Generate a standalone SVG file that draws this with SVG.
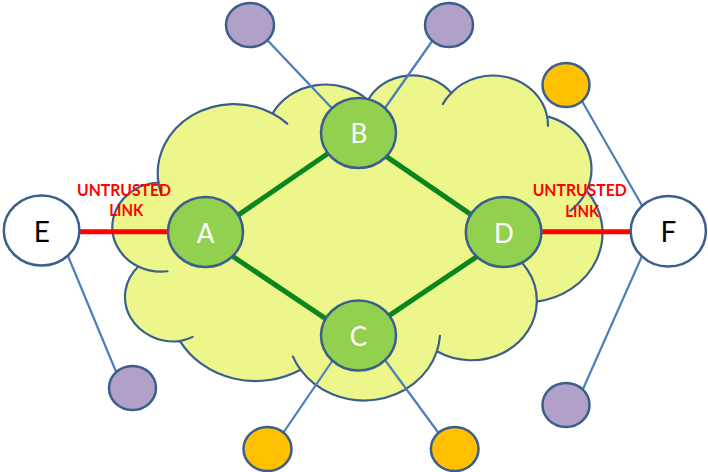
<svg xmlns="http://www.w3.org/2000/svg" width="708" height="472" viewBox="0 0 708 472">
  <style>
    .cloud { fill: #EDF68A; stroke: #3A5F8C; stroke-width: 2.2; stroke-linejoin: round; }
    .tail { fill: none; stroke: #3A5F8C; stroke-width: 2.2; stroke-linecap: round; }
    .spoke { stroke: #4A7EBB; stroke-width: 2.2; fill: none; }
    .trusted { stroke: #0A8520; stroke-width: 5; fill: none; }
    .untrusted { stroke: #FF0000; stroke-width: 5; fill: none; }
    .node { stroke: #3A5F8C; stroke-width: 2.5; }
    .core { fill: #92D050; }
    .edge { fill: #FFFFFF; }
    .purple { fill: #B1A0C7; }
    .orange { fill: #FFC000; }
    .core-label { font-family: Lato, "Liberation Sans", sans-serif; font-size: 26px; fill: #FFFFFF; text-anchor: middle; }
    .edge-label { font-family: Lato, "Liberation Sans", sans-serif; font-size: 28px; fill: #000000; text-anchor: middle; }
    .warn { font-family: Lato, "Liberation Sans", sans-serif; font-size: 17px; font-weight: bold; fill: #FF0000; text-anchor: middle; }
  </style>

  <!-- network cloud: outer outline built from eleven elliptical bumps -->
  <g id="cloud">
    <path class="cloud" d="M 158.44 182.48
      A 76.26 69.12 0 0 1 272.56 113.52
      A 60.23 54.66 0 0 1 368.00 100.21
      A 49.29 44.71 0 0 1 451.30 93.06
      A 54.85 49.60 0 0 1 547.13 116.34
      A 60.23 54.70 0 0 1 586.66 190.67
      A 76.51 69.34 0 0 1 536.81 301.56
      A 65.33 59.17 0 0 1 436.88 351.27
      A 76.25 69.31 0 0 1 300.52 369.71
      A 87.18 79.29 0 0 1 179.96 341.17
      A 49.24 44.51 0 0 1 138.27 266.55
      A 49.07 44.71 0 0 1 158.44 182.48 Z"/>
    <!-- inner hooks where the bumps overlap -->
    <path class="tail" d="M 167.40 271.28 A 49.07 44.71 0 0 1 138.27 266.55"/>
    <path class="tail" d="M 192.64 336.88 A 49.24 44.51 0 0 1 179.96 341.17"/>
    <path class="tail" d="M 300.52 369.71 A 76.25 69.31 0 0 1 292.97 356.62"/>
    <path class="tail" d="M 439.94 335.76 A 76.25 69.31 0 0 1 436.88 351.27"/>
    <path class="tail" d="M 499.82 247.04 A 65.33 59.17 0 0 1 536.81 301.56"/>
    <path class="tail" d="M 586.66 190.67 A 60.23 54.70 0 0 1 570.30 210.79"/>
    <path class="tail" d="M 547.13 116.34 A 54.85 49.60 0 0 1 547.99 125.84"/>
    <path class="tail" d="M 442.78 104.12 A 54.85 49.60 0 0 1 451.30 93.06"/>
    <path class="tail" d="M 364.44 109.90 A 49.29 44.71 0 0 1 368.00 100.21"/>
    <path class="tail" d="M 272.56 113.52 A 76.26 69.12 0 0 1 287.24 123.66"/>
    <path class="tail" d="M 161.01 193.15 A 76.26 69.12 0 0 1 158.44 182.48"/>
  </g>

  <g id="connectors">
    <!-- access spokes -->
    <line class="spoke" x1="253" y1="25" x2="345" y2="122"/>
    <line class="spoke" x1="443.5" y1="25" x2="376.6" y2="120"/>
    <line class="spoke" x1="572.7" y1="85" x2="656.7" y2="231"/>
    <line class="spoke" x1="575.9" y1="405" x2="653.1" y2="231"/>
    <line class="spoke" x1="57.2" y1="230" x2="122.8" y2="388"/>
    <line class="spoke" x1="349.6" y1="335.5" x2="272.2" y2="449"/>
    <line class="spoke" x1="367" y1="335.5" x2="450.3" y2="449"/>
    <!-- trusted core links -->
    <line class="trusted" x1="220" y1="227.6" x2="345" y2="141.7"/>
    <line class="trusted" x1="372" y1="146.6" x2="490" y2="227.6"/>
    <line class="trusted" x1="220" y1="247.8" x2="345" y2="331.7"/>
    <line class="trusted" x1="372" y1="327.1" x2="490" y2="247.8"/>
    <!-- untrusted links -->
    <line class="untrusted" x1="41.5" y1="231.7" x2="205.5" y2="231.7"/>
    <line class="untrusted" x1="503.5" y1="231.7" x2="668" y2="231.7"/>
  </g>

  <g id="node-A">
    <ellipse class="node core" cx="205.5" cy="232" rx="37.5" ry="35"/>
    <text class="core-label" x="205.5" y="242.7">A</text>
  </g>
  <g id="node-B">
    <ellipse class="node core" cx="358.5" cy="133" rx="37.5" ry="35"/>
    <text class="core-label" x="358.8" y="143.3">B</text>
  </g>
  <g id="node-C">
    <ellipse class="node core" cx="358.5" cy="335.5" rx="37.5" ry="35"/>
    <text class="core-label" x="358.5" y="346.2">C</text>
  </g>
  <g id="node-D">
    <ellipse class="node core" cx="503.6" cy="232" rx="37.8" ry="35"/>
    <text class="core-label" x="503.8" y="242.7">D</text>
  </g>
  <g id="node-E">
    <ellipse class="node edge" cx="41.6" cy="230.5" rx="37.8" ry="35"/>
    <text class="edge-label" x="41.8" y="242.3">E</text>
  </g>
  <g id="node-F">
    <ellipse class="node edge" cx="668.3" cy="231.2" rx="37.6" ry="35.3"/>
    <text class="edge-label" x="668.3" y="242.3">F</text>
  </g>

  <g id="host-b1">
    <ellipse class="node purple" cx="250" cy="25" rx="24" ry="22"/>
  </g>
  <g id="host-b2">
    <ellipse class="node purple" cx="449" cy="25" rx="24" ry="22"/>
  </g>
  <g id="host-f1">
    <ellipse class="node orange" cx="566" cy="85" rx="23.5" ry="22"/>
  </g>
  <g id="host-f2">
    <ellipse class="node purple" cx="566" cy="405" rx="23.5" ry="22"/>
  </g>
  <g id="host-e1">
    <ellipse class="node purple" cx="132.5" cy="388" rx="23.5" ry="22"/>
  </g>
  <g id="host-c1">
    <ellipse class="node orange" cx="267.5" cy="449" rx="24" ry="22"/>
  </g>
  <g id="host-c2">
    <ellipse class="node orange" cx="454.7" cy="449" rx="23.8" ry="22"/>
  </g>

  <g id="label-left">
    <text class="warn" x="124" y="196" textLength="94" lengthAdjust="spacingAndGlyphs">UNTRUSTED</text>
    <text class="warn" x="126.3" y="216" textLength="34" lengthAdjust="spacingAndGlyphs">LINK</text>
  </g>
  <g id="label-right">
    <text class="warn" x="579.7" y="195.7" textLength="94" lengthAdjust="spacingAndGlyphs">UNTRUSTED</text>
    <text class="warn" x="582.2" y="216.5" textLength="34" lengthAdjust="spacingAndGlyphs">LINK</text>
  </g>
</svg>
